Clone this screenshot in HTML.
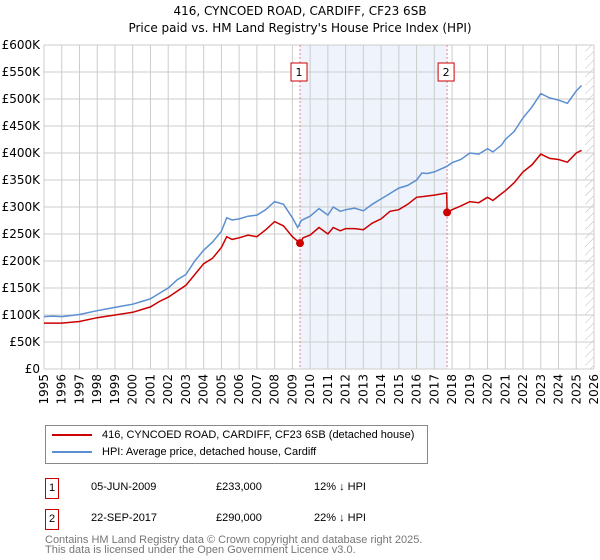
<!DOCTYPE html>
<html><head><meta charset="utf-8"><style>
body{margin:0;background:#fff;font-family:"Liberation Sans","DejaVu Sans",sans-serif;}
#wrap{position:relative;width:600px;height:560px;overflow:hidden;}
.t{position:absolute;font-size:12px;color:#000;white-space:nowrap;}
</style></head><body>
<div id="wrap">
<svg id="chart" width="600" height="560" style="position:absolute;left:0;top:0;font-family:'DejaVu Sans','Liberation Sans',sans-serif;">
<text x="300" y="15" text-anchor="middle" font-size="12">416, CYNCOED ROAD, CARDIFF, CF23 6SB</text>
<text x="300" y="32" text-anchor="middle" font-size="12">Price paid vs. HM Land Registry's House Price Index (HPI)</text>
<g id="plot"></g>
</svg>
<div style="position:absolute;left:45px;top:425px;width:381px;height:37px;border:1px solid #888;font-size:11px;">
<div style="position:absolute;left:6px;top:3px;white-space:nowrap;"><span style="display:inline-block;width:40px;height:2px;background:#cc0000;vertical-align:middle;margin-right:10px;"></span>416, CYNCOED ROAD, CARDIFF, CF23 6SB (detached house)</div>
<div style="position:absolute;left:6px;top:20px;white-space:nowrap;"><span style="display:inline-block;width:40px;height:2px;background:#5b8fd0;vertical-align:middle;margin-right:10px;"></span>HPI: Average price, detached house, Cardiff</div>
</div>
<div>
<div class="t" style="left:45px;top:478px;width:12px;height:19px;border:1px solid #cc0000;text-align:center;line-height:19px;font-size:11px;">1</div>
<div class="t" style="left:91px;top:481px;font-size:11px;">05-JUN-2009</div>
<div class="t" style="left:216px;top:481px;font-size:11px;">£233,000</div>
<div class="t" style="left:314px;top:481px;font-size:11px;">12% ↓ HPI</div>
</div>
<div>
<div class="t" style="left:45px;top:509px;width:12px;height:19px;border:1px solid #cc0000;text-align:center;line-height:19px;font-size:11px;">2</div>
<div class="t" style="left:91px;top:512px;font-size:11px;">22-SEP-2017</div>
<div class="t" style="left:216px;top:512px;font-size:11px;">£290,000</div>
<div class="t" style="left:314px;top:512px;font-size:11px;">22% ↓ HPI</div>
</div>
<div class="t" style="left:45px;top:535px;font-size:11px;color:#777;line-height:10px;">Contains HM Land Registry data © Crown copyright and database right 2025.<br>This data is licensed under the Open Government Licence v3.0.</div>
</div>
<script>
const hpiYears=[1995,1995.5,1996,1997,1998,1999,2000,2000.5,2001,2001.5,2002,2002.5,2003,2003.5,2004,2004.5,2005,2005.3,2005.6,2006,2006.5,2007,2007.5,2008,2008.5,2009,2009.3,2009.5,2010,2010.5,2011,2011.3,2011.7,2012,2012.5,2013,2013.5,2014,2014.5,2015,2015.5,2016,2016.3,2016.6,2017,2017.7,2018,2018.5,2019,2019.5,2020,2020.3,2020.8,2021,2021.5,2022,2022.5,2023,2023.5,2024,2024.5,2025,2025.3];
const hpiValues=[97,98,97,101,108,114,120,125,130,140,150,165,175,200,220,235,255,280,276,278,283,285,295,310,305,280,262,275,283,297,285,300,292,295,298,293,305,315,325,335,340,350,363,362,365,375,382,388,400,398,408,402,415,425,440,465,485,510,502,498,492,515,525];
const priceYears=[1995,1996,1997,1998,1999,2000,2001,2001.5,2002,2003,2003.5,2004,2004.5,2005,2005.3,2005.6,2006,2006.5,2007,2007.5,2008,2008.5,2009,2009.43,2009.6,2010,2010.5,2011,2011.3,2011.7,2012,2012.5,2013,2013.5,2014,2014.5,2015,2015.5,2016,2016.5,2017,2017.7,2017.72,2018,2018.5,2019,2019.5,2020,2020.3,2020.8,2021,2021.5,2022,2022.5,2023,2023.5,2024,2024.5,2025,2025.3];
const priceValues=[85,85,88,95,100,105,115,125,133,155,175,195,205,225,245,240,243,248,245,258,273,265,245,233,243,248,262,250,262,256,260,260,258,270,278,292,295,305,318,320,322,326,290,295,302,310,308,318,312,325,330,345,365,378,398,390,388,383,400,405];
const saleYears=[2009.43,2017.72];
const saleValues=[233,290];
const saleLabels=["1","2"];
const yTicks=[0,50,100,150,200,250,300,350,400,450,500,550,600];
const yTickLabels=["£0","£50K","£100K","£150K","£200K","£250K","£300K","£350K","£400K","£450K","£500K","£550K","£600K"];
const xTicks=[1995,1996,1997,1998,1999,2000,2001,2002,2003,2004,2005,2006,2007,2008,2009,2010,2011,2012,2013,2014,2015,2016,2017,2018,2019,2020,2021,2022,2023,2024,2025,2026];

const L=44,R=594,T=45,B=369;
const X=y=>L+(y-1995)/31*(R-L);
const Y=v=>B-v/600*(B-T);
const NS="http://www.w3.org/2000/svg";
const g=document.getElementById('plot');
function mk(tag,attrs,name,parent){const e=document.createElementNS(NS,tag);for(const k in attrs)e.setAttribute(k,attrs[k]);


(parent||g).appendChild(e);return e;}
mk('rect',{x:X(saleYears[0]),y:T,width:X(saleYears[1])-X(saleYears[0]),height:B-T,fill:'#eef3fc'},'ownership-band');
const defs=mk('defs',{},'defs');
const pat=mk('pattern',{id:'hatch',width:6,height:6,patternUnits:'userSpaceOnUse',patternTransform:'rotate(45)'},'hatch-pattern',defs);
mk('line',{x1:0,y1:0,x2:0,y2:6,stroke:'#bbb','stroke-width':1},'hatch-line',pat);
mk('rect',{x:X(2025.5),y:T,width:R-X(2025.5),height:B-T,fill:'url(#hatch)'},'forecast-hatch');
yTicks.forEach((v,i)=>{
  mk('line',{x1:L,x2:R,y1:Y(v),y2:Y(v),stroke:'#ccc'},'y-gridline');
  const t=mk('text',{x:L-4,y:Y(v)+4,'text-anchor':'end','font-size':12},'y-tick-label');t.textContent=yTickLabels[i];
});
xTicks.forEach(yr=>{
  mk('line',{x1:X(yr),x2:X(yr),y1:T,y2:B,stroke:'#ccc'},'x-gridline');
  const tx=X(yr)+4,ty=B+5;
  const t=mk('text',{x:tx,y:ty,'text-anchor':'end','font-size':12,transform:'rotate(-90 '+tx+' '+ty+')'},'x-tick-label');t.textContent=yr;
});
saleYears.forEach((yr,i)=>{
  mk('line',{x1:X(yr),x2:X(yr),y1:T,y2:B,stroke:'#f08080','stroke-dasharray':'2,2'},'sale-marker-line');
  mk('rect',{x:X(yr)-9,y:T+18,width:16,height:18,fill:'#fff',stroke:'#cc0000'},'sale-marker-badge');
  const t=mk('text',{x:X(yr)-1,y:T+31,'text-anchor':'middle','font-size':11},'sale-marker-label');t.textContent=saleLabels[i];
});
const pts=(xs,vs)=>xs.map((x,i)=>X(x).toFixed(1)+','+Y(vs[i]).toFixed(1)).join(' ');
mk('polyline',{points:pts(hpiYears,hpiValues),fill:'none',stroke:'#5b8fd0','stroke-width':1.5},'hpi-line');
mk('polyline',{points:pts(priceYears,priceValues),fill:'none',stroke:'#cc0000','stroke-width':1.5},'price-line');
saleYears.forEach((yr,i)=>mk('circle',{cx:X(yr),cy:Y(saleValues[i]),r:4,fill:'#cc0000'},'sale-point'));
</script>
</body></html>
